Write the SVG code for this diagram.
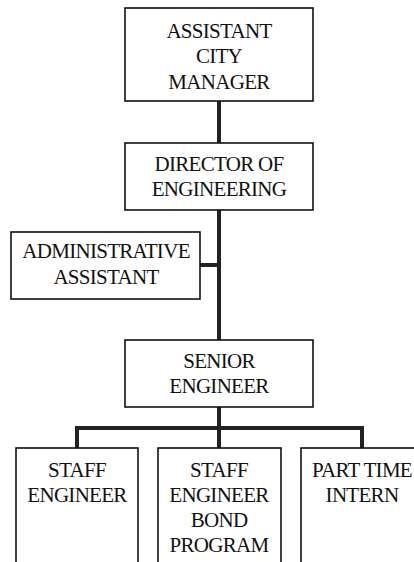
<svg xmlns="http://www.w3.org/2000/svg" width="414" height="562" viewBox="0 0 414 562">
<style>
.box{fill:#fff;stroke:#111;stroke-width:1.6}
.lbl{font-size:21px;letter-spacing:-0.7px;fill:#111;text-anchor:middle}
.conn{fill:none;stroke:#222;stroke-width:4;stroke-linecap:butt}
</style>
<rect width="414" height="562" fill="#fff"/>
<g id="connectors">
<line class="conn" x1="219" y1="101" x2="219" y2="143"/>
<line class="conn" x1="219" y1="210" x2="219" y2="340"/>
<line class="conn" x1="200" y1="265" x2="219" y2="265"/>
<line class="conn" x1="219" y1="407" x2="219" y2="448"/>
<polyline class="conn" points="77,448 77,428 362,428 362,448"/>
</g>
<g font-family="'Liberation Serif', 'Times New Roman', Times, serif">
<g id="assistant-city-manager">
<rect class="box" x="125" y="8" width="188" height="93"/>
<text class="lbl" x="219" y="38">ASSISTANT</text>
<text class="lbl" x="219" y="63">CITY</text>
<text class="lbl" x="219" y="89">MANAGER</text>
</g>
<g id="director-of-engineering">
<rect class="box" x="125" y="143" width="188" height="67"/>
<text class="lbl" x="219" y="171">DIRECTOR OF</text>
<text class="lbl" x="219" y="196">ENGINEERING</text>
</g>
<g id="administrative-assistant">
<rect class="box" x="11" y="232" width="189" height="67"/>
<text class="lbl" x="106" y="258">ADMINISTRATIVE</text>
<text class="lbl" x="106" y="284">ASSISTANT</text>
</g>
<g id="senior-engineer">
<rect class="box" x="125" y="340" width="188" height="67"/>
<text class="lbl" x="219" y="368">SENIOR</text>
<text class="lbl" x="219" y="393">ENGINEER</text>
</g>
<g id="staff-engineer">
<rect class="box" x="16" y="448" width="122" height="130"/>
<text class="lbl" x="77" y="477">STAFF</text>
<text class="lbl" x="77" y="502">ENGINEER</text>
</g>
<g id="staff-engineer-bond-program">
<rect class="box" x="158" y="448" width="123" height="130"/>
<text class="lbl" x="219" y="477">STAFF</text>
<text class="lbl" x="219" y="502">ENGINEER</text>
<text class="lbl" x="219" y="527">BOND</text>
<text class="lbl" x="219" y="552">PROGRAM</text>
</g>
<g id="part-time-intern">
<rect class="box" x="301" y="448" width="130" height="130"/>
<text class="lbl" x="362" y="477">PART TIME</text>
<text class="lbl" x="362" y="502">INTERN</text>
</g>
</g>
</svg>
